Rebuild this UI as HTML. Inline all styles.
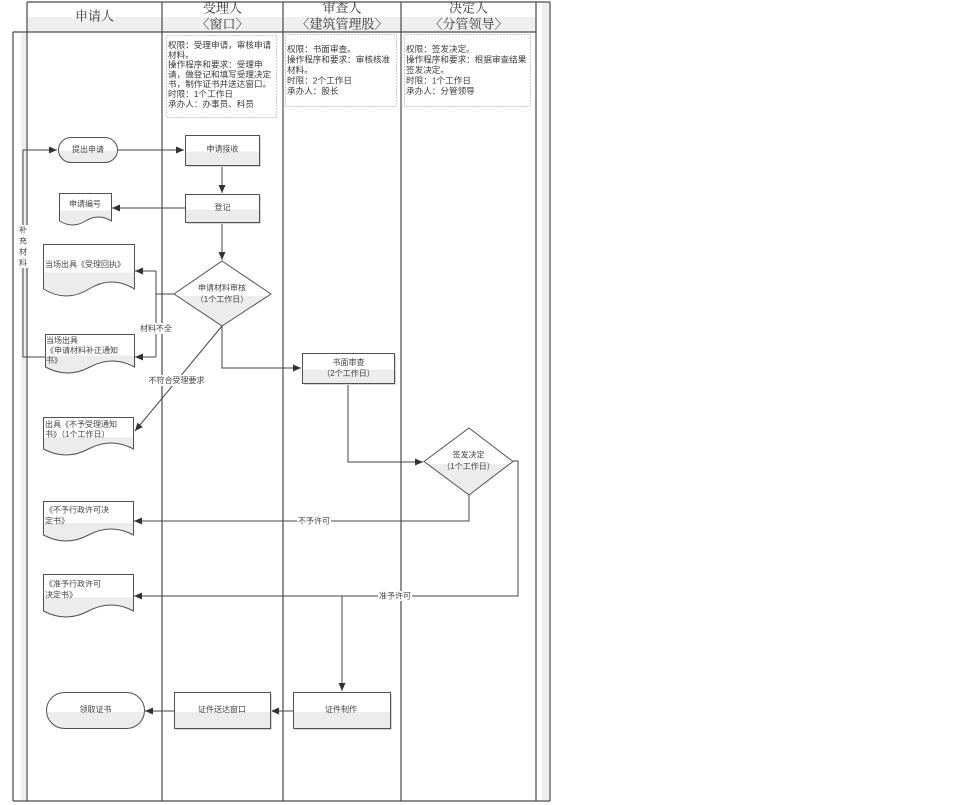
<!DOCTYPE html>
<html><head><meta charset="utf-8"><style>
html,body{margin:0;padding:0;background:#fff;}
svg{display:block;}
.h{font-family:"Liberation Serif","Noto Serif CJK SC",serif;font-size:13px;fill:#333;}
.s{font-family:"Liberation Sans","Noto Sans CJK SC",sans-serif;font-size:8.6px;fill:#3a3a3a;}
.n{font-family:"Liberation Sans","Noto Sans CJK SC",sans-serif;font-size:8px;fill:#444;}
.fr{stroke:#4a4a4a;stroke-width:1.2;fill:none;}
.c{stroke:#444;stroke-width:1;fill:none;}
.shp{stroke:#505050;stroke-width:1;fill:url(#g);}
.sh{fill:#d8d8d8;stroke:none;}
</style></head><body>
<svg width="960" height="805" viewBox="0 0 960 805" xmlns="http://www.w3.org/2000/svg">
<defs>
<linearGradient id="g" x1="0" y1="0" x2="0" y2="1">
<stop offset="0" stop-color="#fff"/><stop offset="0.54" stop-color="#fff"/>
<stop offset="0.54" stop-color="#ececec"/><stop offset="1" stop-color="#ececec"/>
</linearGradient>
<marker id="a" markerUnits="userSpaceOnUse" markerWidth="8" markerHeight="7" refX="8" refY="3.5" orient="auto">
<path d="M0,0 L8,3.5 L0,7 z" fill="#333"/>
</marker>
</defs>
<rect width="960" height="805" fill="#fff"/>
<!-- header gray band -->
<rect x="27" y="17" width="509" height="15" fill="#efefef"/>
<!-- strips -->
<rect x="21" y="33" width="5" height="767" fill="#efefef"/>
<rect x="542" y="3" width="7" height="797" fill="#efefef"/>
<!-- frame -->
<path class="fr" d="M27,2 H550 M13,32 H536 M13,801 H550 M13,32 V801 M27,2 V801 M162,2 V801 M283,2 V801 M401,2 V801 M536,2 V801 M550,2 V801"/>
<!-- header text -->
<text class="h" x="94.5" y="16" text-anchor="middle" dominant-baseline="central">申请人</text>
<text class="h" x="222.5" y="8" text-anchor="middle" dominant-baseline="central">受理人</text>
<text class="h" x="222.5" y="24" text-anchor="middle" dominant-baseline="central">〈窗口〉</text>
<text class="h" x="342" y="8" text-anchor="middle" dominant-baseline="central">审查人</text>
<text class="h" x="342" y="24" text-anchor="middle" dominant-baseline="central">〈建筑管理股〉</text>
<text class="h" x="468.5" y="8" text-anchor="middle" dominant-baseline="central">决定人</text>
<text class="h" x="468.5" y="24" text-anchor="middle" dominant-baseline="central">〈分管领导〉</text>
<!-- dotted boxes -->
<rect x="166.5" y="35.5" width="110" height="82" fill="none" stroke="#999" stroke-width="1" stroke-dasharray="1,2"/>
<rect x="285.5" y="34.5" width="111" height="72" fill="none" stroke="#999" stroke-width="1" stroke-dasharray="1,2"/>
<rect x="404.5" y="34.5" width="126" height="72" fill="none" stroke="#999" stroke-width="1" stroke-dasharray="1,2"/>
<g class="s" dominant-baseline="central">
<text x="168" y="45">权限：受理申请，审核申请</text>
<text x="168" y="54.8">材料。</text>
<text x="168" y="64.6">操作程序和要求：受理申</text>
<text x="168" y="74.4">请，做登记和填写受理决定</text>
<text x="168" y="84.2">书，制作证书并送达窗口。</text>
<text x="168" y="94">时限：1个工作日</text>
<text x="168" y="103.8">承办人：办事员、科员</text>
<text x="287" y="49">权限：书面审查。</text>
<text x="287" y="59.5">操作程序和要求：审核核准</text>
<text x="287" y="70">材料。</text>
<text x="287" y="80.5">时限：2个工作日</text>
<text x="287" y="91">承办人：股长</text>
<text x="406" y="49">权限：签发决定。</text>
<text x="406" y="59.5">操作程序和要求：根据审查结果</text>
<text x="406" y="70">签发决定。</text>
<text x="406" y="80.5">时限：1个工作日</text>
<text x="406" y="91">承办人：分管领导</text>
</g>
<!-- connectors -->
<path class="c" d="M117,150 H184" marker-end="url(#a)"/>
<path class="c" d="M222,165 V193" marker-end="url(#a)"/>
<path class="c" d="M185,208 H112" marker-end="url(#a)"/>
<path class="c" d="M222,222 V260" marker-end="url(#a)"/>
<path class="c" d="M174,294 H156 M156,271 V357"/>
<path class="c" d="M156,271 H135" marker-end="url(#a)"/>
<path class="c" d="M156,357 H135" marker-end="url(#a)"/>
<path class="c" d="M45,357 H23 V150 H57" marker-end="url(#a)"/>
<path class="c" d="M222,326 V368 H301" marker-end="url(#a)"/>
<path class="c" d="M222,326 L135,431" marker-end="url(#a)"/>
<path class="c" d="M348,383 V462 H423" marker-end="url(#a)"/>
<path class="c" d="M469,495 V521 H134" marker-end="url(#a)"/>
<path class="c" d="M513,461 H518 V596 H134" marker-end="url(#a)"/>
<path class="c" d="M342,596 V691" marker-end="url(#a)"/>
<path class="c" d="M293,711 H271" marker-end="url(#a)"/>
<path class="c" d="M174,711 H145" marker-end="url(#a)"/>
<!-- connector labels -->
<rect x="139" y="323" width="34" height="11" fill="#fff"/>
<text class="n" x="156" y="328.5" text-anchor="middle" dominant-baseline="central">材料不全</text>
<rect x="147" y="375" width="59" height="11" fill="#fff"/>
<text class="n" x="176.5" y="380.5" text-anchor="middle" dominant-baseline="central">不符合受理要求</text>
<rect x="297" y="516" width="34" height="10" fill="#fff"/>
<text class="n" x="314" y="521" text-anchor="middle" dominant-baseline="central">不予许可</text>
<rect x="378" y="591" width="34" height="10" fill="#fff"/>
<text class="n" x="395" y="596" text-anchor="middle" dominant-baseline="central">准予许可</text>
<rect x="18" y="225" width="10" height="43" fill="#fff"/>
<g class="n" text-anchor="middle" dominant-baseline="central">
<text x="23" y="230">补</text><text x="23" y="241">充</text><text x="23" y="252">材</text><text x="23" y="263">料</text>
</g>
<!-- shapes -->
<rect class="shp" x="58.5" y="137.5" width="59" height="25" rx="12.5"/>
<text class="n" x="88" y="149.5" text-anchor="middle" dominant-baseline="central">提出申请</text>

<rect class="sh" x="187" y="137" width="74" height="30"/>
<rect class="shp" x="185.5" y="135.5" width="74" height="30"/>
<text class="n" x="222.5" y="149" text-anchor="middle" dominant-baseline="central">申请接收</text>

<rect class="sh" x="187" y="196" width="74" height="28"/>
<rect class="shp" x="185.5" y="194.5" width="74" height="28"/>
<text class="n" x="222.5" y="207.5" text-anchor="middle" dominant-baseline="central">登记</text>

<path class="shp" d="M59.5,193.5 H111.5 V221 Q98.5,213 85.5,221 T59.5,221 Z"/>
<text class="n" x="85" y="204" text-anchor="middle" dominant-baseline="central">申请编号</text>

<path class="shp" d="M222,261 L271,294 L222,326 L174,294 Z"/>
<text class="n" x="222" y="288" text-anchor="middle" dominant-baseline="central">申请材料审核</text>
<text class="n" x="222" y="299.5" text-anchor="middle" dominant-baseline="central">（1个工作日）</text>

<path class="shp" d="M43.5,244.5 H134.5 V289 Q111.75,275 89,289 T43.5,289 Z"/>
<text class="n" x="45" y="264.5" dominant-baseline="central">当场出具《受理回执》</text>

<path class="shp" d="M45.5,334.5 H134.5 V367 Q112.25,355 90,367 T45.5,367 Z"/>
<text class="n" x="46" y="340.5" dominant-baseline="central">当场出具</text>
<text class="n" x="46" y="350.5" dominant-baseline="central">《申请材料补正通知</text>
<text class="n" x="46" y="360.5" dominant-baseline="central">书》</text>

<path class="shp" d="M43.5,417.5 H133.5 V449 Q111,437 88.5,449 T43.5,449 Z"/>
<text class="n" x="45" y="424.5" dominant-baseline="central">出具《不予受理通知</text>
<text class="n" x="45" y="434.5" dominant-baseline="central">书》（1个工作日）</text>

<path class="shp" d="M43.5,501.5 H133.5 V535 Q111,523 88.5,535 T43.5,535 Z"/>
<text class="n" x="45" y="510" dominant-baseline="central">《不予行政许可决</text>
<text class="n" x="45" y="521" dominant-baseline="central">定书》</text>

<path class="shp" d="M43.5,574.5 H133.5 V611 Q111,599 88.5,611 T43.5,611 Z"/>
<text class="n" x="45" y="584" dominant-baseline="central">《准予行政许可</text>
<text class="n" x="45" y="595" dominant-baseline="central">决定书》</text>

<rect class="sh" x="304" y="355" width="92" height="30"/>
<rect class="shp" x="302.5" y="353.5" width="92" height="30"/>
<text class="n" x="348.5" y="362.5" text-anchor="middle" dominant-baseline="central">书面审查</text>
<text class="n" x="348.5" y="373.5" text-anchor="middle" dominant-baseline="central">（2个工作日）</text>

<path class="shp" d="M469,428 L513,461.5 L469,495 L424,461.5 Z"/>
<text class="n" x="468.5" y="455" text-anchor="middle" dominant-baseline="central">签发决定</text>
<text class="n" x="468.5" y="466.5" text-anchor="middle" dominant-baseline="central">（1个工作日）</text>

<rect class="shp" x="46.5" y="692.5" width="98" height="36" rx="18"/>
<text class="n" x="95.5" y="709.5" text-anchor="middle" dominant-baseline="central">领取证书</text>

<rect class="sh" x="176" y="694" width="96" height="36"/>
<rect class="shp" x="174.5" y="692.5" width="96" height="36"/>
<text class="n" x="222" y="709.5" text-anchor="middle" dominant-baseline="central">证件送达窗口</text>

<rect class="sh" x="295" y="694" width="97" height="36"/>
<rect class="shp" x="293.5" y="692.5" width="97" height="36"/>
<text class="n" x="341" y="709.5" text-anchor="middle" dominant-baseline="central">证件制作</text>
</svg>
</body></html>
